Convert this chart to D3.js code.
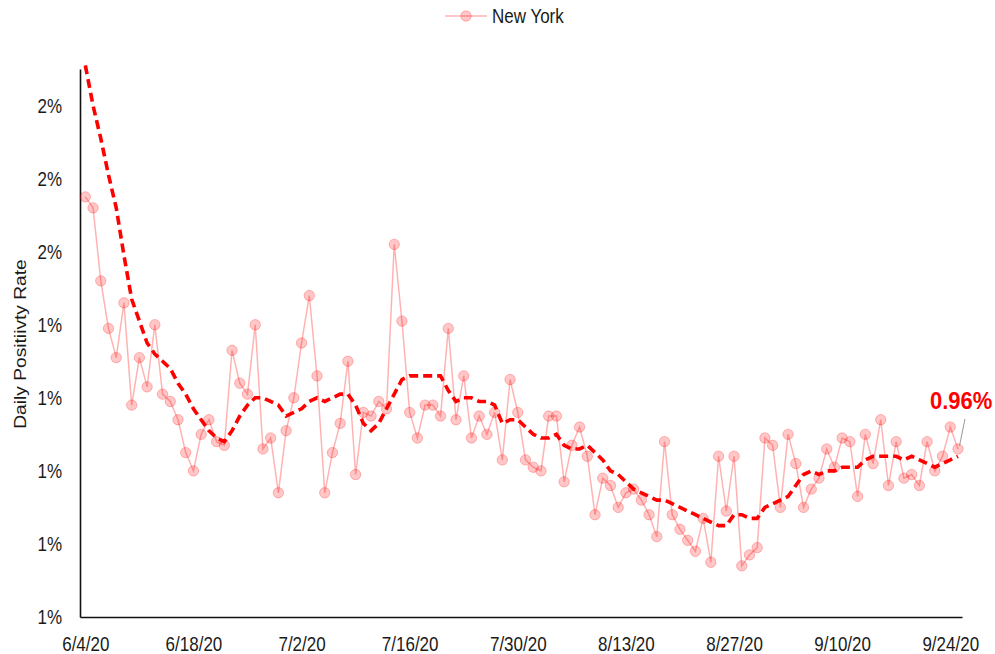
<!DOCTYPE html>
<html>
<head>
<meta charset="utf-8">
<script src="https://cdn.jsdelivr.net/npm/d3@7"></script>
<style>
    body { margin: 0; background: #fff; }
    svg text { font-family: "Liberation Sans", Arial, sans-serif; fill: #1a1a1a; }
</style>
</head>
<body>
<svg id="chart" width="995" height="654"></svg>
<script>
    // daily positivity rate (%) from 6/4/20, one value per day
    var positivity = [
        1.65, 1.62, 1.42, 1.29, 1.21, 1.36, 1.08, 1.21, 1.13, 1.30,
        1.11, 1.09, 1.04, 0.95, 0.90, 1.00, 1.04, 0.98, 0.97, 1.23,
        1.14, 1.11, 1.30, 0.96, 0.99, 0.84, 1.01, 1.10, 1.25, 1.38,
        1.16, 0.84, 0.95, 1.03, 1.20, 0.89, 1.06, 1.05, 1.09, 1.07,
        1.52, 1.31, 1.06, 0.99, 1.08, 1.08, 1.05, 1.29, 1.04, 1.16,
        0.99, 1.05, 1.00, 1.06, 0.93, 1.15, 1.06, 0.93, 0.91, 0.90,
        1.05, 1.05, 0.87, 0.97, 1.02, 0.94, 0.78, 0.88, 0.86, 0.80,
        0.84, 0.85, 0.82, 0.78, 0.72, 0.98, 0.78, 0.74, 0.71, 0.68,
        0.77, 0.65, 0.94, 0.79, 0.94, 0.64, 0.67, 0.69, 0.99, 0.97,
        0.80, 1.00, 0.92, 0.80, 0.85, 0.88, 0.96, 0.91, 0.99, 0.98,
        0.83, 1.00, 0.92, 1.04, 0.86, 0.98, 0.88, 0.89, 0.86, 0.98,
        0.90, 0.94, 1.02, 0.96
    ];

    // moving average (dashed line), same days
    var movingAvg = [
        2.01, 1.90, 1.81, 1.71, 1.62, 1.49, 1.37, 1.31, 1.25, 1.22,
        1.20, 1.18, 1.14, 1.11, 1.07, 1.04, 1.01, 0.99, 0.98, 1.01,
        1.05, 1.08, 1.10, 1.10, 1.09, 1.08, 1.05, 1.06, 1.07, 1.09,
        1.10, 1.09, 1.10, 1.11, 1.11, 1.08, 1.03, 1.01, 1.03, 1.07,
        1.11, 1.15, 1.16, 1.16, 1.16, 1.16, 1.16, 1.12, 1.09, 1.10,
        1.10, 1.09, 1.09, 1.08, 1.03, 1.04, 1.04, 1.02, 1.00, 0.99,
        0.99, 1.00, 0.97, 0.96, 0.96, 0.97, 0.95, 0.93, 0.90, 0.89,
        0.87, 0.85, 0.84, 0.83, 0.82, 0.82, 0.81, 0.80, 0.79, 0.78,
        0.77, 0.76, 0.75, 0.75, 0.78, 0.78, 0.77, 0.77, 0.80, 0.81,
        0.82, 0.83, 0.86, 0.89, 0.90, 0.89, 0.90, 0.90, 0.91, 0.91,
        0.91, 0.93, 0.94, 0.94, 0.94, 0.94, 0.93, 0.94, 0.93, 0.92,
        0.91, 0.92, 0.93, 0.94
    ];

    var startDate = new Date(2020, 5, 4);
    var xTickLabels = ["6/4/20", "6/18/20", "7/2/20", "7/16/20", "7/30/20", "8/13/20", "8/27/20", "9/10/20", "9/24/20"];
    var yTickValues = [0.5, 0.7, 0.9, 1.1, 1.3, 1.5, 1.7, 1.9];
    var yTickLabels = ["1%", "1%", "1%", "1%", "1%", "2%", "2%", "2%"];
    var seriesName = "New York";
    var lastLabel = "0.96%";

    var parseDate = d3.timeParse("%-m/%-d/%y");
    var days = positivity.map(function (d, i) { return d3.timeDay.offset(startDate, i); });
    var DAY = 864e5;

    var svg = d3.select("#chart");
    var x = d3.scaleTime()
        .domain([new Date(days[0].getTime() - 0.69 * DAY), new Date(days[days.length - 1].getTime() + 0.52 * DAY)])
        .range([80, 962]);
    var y = d3.scaleLinear()
        .domain([0.5, 2.0])
        .range([617, 69]);

    // text in the source is a little taller than wide
    var stretch = "scale(1,1.2)";

    var yAxis = svg.append("g")
        .attr("transform", "translate(80,0)")
        .call(d3.axisLeft(y)
            .tickValues(yTickValues)
            .tickFormat(function (d, i) { return yTickLabels[i]; })
            .tickSize(0)
            .tickPadding(18));
    yAxis.select(".domain").attr("stroke", "#111").attr("stroke-width", 1.6);
    yAxis.selectAll("text")
        .attr("font-size", 17)
        .style("font-family", null)
        .attr("transform", stretch);

    var xAxis = svg.append("g")
        .attr("transform", "translate(0,617)")
        .call(d3.axisBottom(x)
            .tickValues(xTickLabels.map(parseDate))
            .tickFormat(function (d, i) { return xTickLabels[i]; })
            .tickSize(0)
            .tickPadding(16));
    xAxis.select(".domain").attr("stroke", "#111").attr("stroke-width", 1.6);
    xAxis.selectAll("text")
        .attr("font-size", 17)
        .attr("transform", stretch);
    svg.selectAll(".tick text").attr("font-family", null).attr("fill", "#1a1a1a");

    svg.append("text")
        .attr("transform", "translate(26,344) rotate(-90) scale(1.2,1)")
        .attr("text-anchor", "middle")
        .attr("font-size", 16)
        .text("Daily Positiivty Rate");

    var line = d3.line()
        .x(function (d, i) { return x(days[i]); })
        .y(function (d) { return y(d); });

    svg.append("path")
        .datum(positivity)
        .attr("fill", "none")
        .attr("stroke", "#ff0000")
        .attr("stroke-opacity", 0.3)
        .attr("stroke-width", 1.5)
        .attr("d", line);

    svg.append("g")
        .selectAll("circle")
        .data(positivity)
        .enter().append("circle")
        .attr("cx", function (d, i) { return x(days[i]); })
        .attr("cy", function (d) { return y(d); })
        .attr("r", 5.2)
        .attr("fill", "#ff0000")
        .attr("fill-opacity", 0.22)
        .attr("stroke", "#ff0000")
        .attr("stroke-opacity", 0.25)
        .attr("stroke-width", 1);

    svg.append("path")
        .datum(movingAvg)
        .attr("fill", "none")
        .attr("stroke", "#ff0000")
        .attr("stroke-width", 3.6)
        .attr("stroke-dasharray", "9,5")
        .attr("d", line);

    // last value call-out
    var lastI = positivity.length - 1;
    var lx = x(days[lastI]), ly = y(positivity[lastI]);
    svg.append("line")
        .attr("x1", lx + 1.5).attr("y1", ly - 3)
        .attr("x2", lx + 7).attr("y2", ly - 30)
        .attr("stroke", "#999")
        .attr("stroke-width", 1);
    svg.append("text")
        .attr("transform", "translate(930,409) scale(1,1.08)")
        .attr("font-size", 22)
        .attr("font-weight", "bold")
        .style("fill", "#ff0000")
        .text(lastLabel);

    // legend
    var legend = svg.append("g").attr("transform", "translate(445,16)");
    legend.append("line")
        .attr("x1", 0).attr("x2", 42)
        .attr("stroke", "#ff0000")
        .attr("stroke-opacity", 0.3)
        .attr("stroke-width", 1.5);
    legend.append("circle")
        .attr("cx", 21).attr("r", 5.2)
        .attr("fill", "#ff0000")
        .attr("fill-opacity", 0.22)
        .attr("stroke", "#ff0000")
        .attr("stroke-opacity", 0.25);
    legend.append("text")
        .attr("x", 47)
        .attr("y", 0)
        .attr("dy", "0.35em")
        .attr("font-size", 17)
        .attr("transform", "translate(0,0) scale(1,1.2)")
        .text(seriesName);
</script>
</body>
</html>
